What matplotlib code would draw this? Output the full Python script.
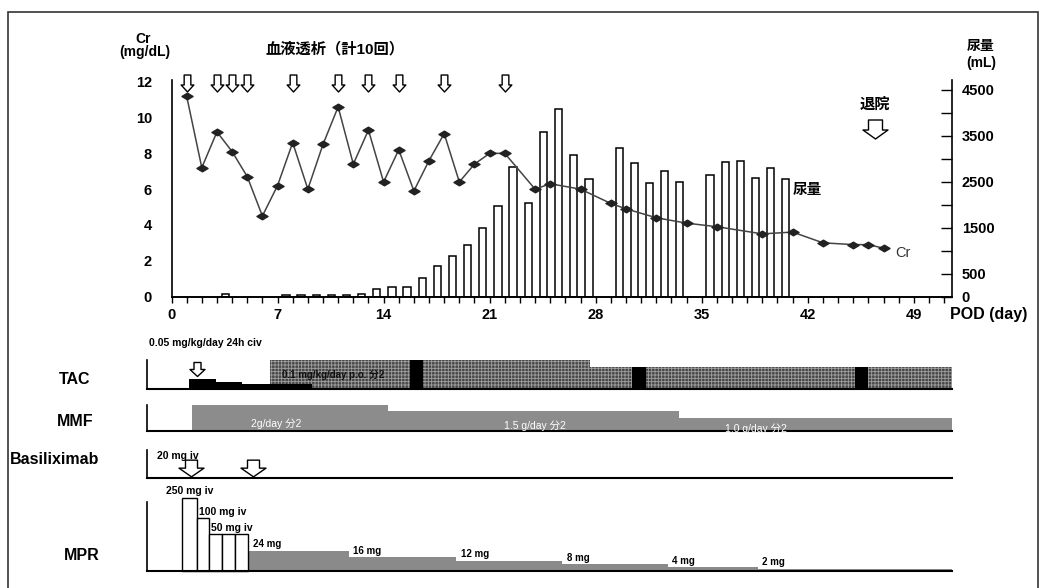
import numpy as np
import matplotlib
matplotlib.use('Agg')
import matplotlib.pyplot as plt
from matplotlib.path import Path

plt.rcParams['font.family'] = ['Liberation Sans', 'Noto Sans CJK JP']
plt.rcParams['font.weight'] = 'bold'
plt.rcParams['hatch.linewidth'] = 0.6

# ---- data ----
# serum creatinine (mg/dL) by POD
cr_day = [1, 2, 3, 4, 5, 6, 7, 8, 9, 10, 11, 12, 13, 14, 15, 16, 17, 18, 19, 20, 21, 22,
          24, 25, 27, 29, 30, 32, 34, 36, 39, 41, 43, 45, 46, 47]
cr_val = [11.2, 7.2, 9.2, 8.1, 6.7, 4.5, 6.2, 8.6, 6.0, 8.5, 10.6, 7.4, 9.3, 6.4, 8.2, 5.9, 7.6, 9.1, 6.4, 7.4, 8.0, 8.0,
          6.0, 6.3, 6.0, 5.2, 4.9, 4.4, 4.1, 3.9, 3.5, 3.6, 3.0, 2.9, 2.9, 2.7]

# urine volume (mL) by POD
urine_day = [4, 8, 9, 10, 11, 12, 13, 14, 15, 16, 17, 18, 19, 20, 21, 22, 23, 24, 25, 26, 27, 28,
             30, 31, 32, 33, 34, 36, 37, 38, 39, 40, 41]
urine_ml = [60, 30, 40, 40, 40, 40, 60, 155, 210, 210, 405, 665, 875, 1125, 1485, 1970, 2830, 2030, 3580, 4080, 3090, 2560,
            3230, 2900, 2480, 2740, 2500, 2640, 2940, 2960, 2590, 2800, 2560]

dialysis_day = [1, 3, 4, 5, 8, 11, 13, 15, 18, 22]
discharge_day = 46.45

# tacrolimus
tac_iv_start = [1.16, 2.94, 4.63]
tac_iv_level = [0.033, 0.025, 0.017]
tac_iv_end = 9.25
tac_po_start = [6.5, 27.6]
tac_po_level = [0.1, 0.075]
tac_black = [(15.75, 16.6), (30.4, 31.3), (45.1, 45.95)]
tac_arrow_day = 1.66

# MMF (g/day)
mmf_start = [1.33, 14.3, 33.5]
mmf_dose = [2.0, 1.5, 1.0]
mmf_text = ['2g/day 分2', '1.5 g/day 分2', '1.0 g/day 分2']
mmf_text_day = [6.94, 24.0, 38.6]

# basiliximab
basi_day = [1.27, 5.35]

# methylprednisolone (mg)
mpr_iv_edges = [0.71, 1.70, 2.5, 3.35, 4.19, 5.07]
mpr_iv_dose = [250, 100, 50, 50, 50]
mpr_po_start = [5.07, 11.7, 18.8, 25.8, 32.75, 38.7]
mpr_po_dose = [24, 16, 12, 8, 4, 2]

end_day = 51.52

# ---- layout helpers (pixel boxes) ----
W, H = 1045, 588


def box(left, top, right, bottom):
    return [left / W, 1 - bottom / H, (right - left) / W, (bottom - top) / H]


def px(x, y):
    return x / W, 1 - y / H


def arrow_marker(body_w, head_w, body_h, head_h):
    top = (body_h + head_h) / 2
    mid = top - body_h
    verts = [(-body_w / 2, top), (body_w / 2, top), (body_w / 2, mid), (head_w / 2, mid),
             (0, -top), (-head_w / 2, mid), (-body_w / 2, mid), (-body_w / 2, top)]
    return Path(verts, closed=True)


diamond = Path([(-1, 0), (0, 0.6), (1, 0), (0, -0.6), (-1, 0)], closed=True)

fig = plt.figure(figsize=(10.45, 5.88), dpi=100)
fig.add_artist(plt.Rectangle((8 / W, -0.1), 1030 / W, 1.1 - 12 / H, transform=fig.transFigure,
                             fill=False, lw=1.2, ec='#333333'))

# ---- top chart ----
ax = fig.add_axes(box(171.5, 80, 952, 296.5))
ax_u = ax.twinx()
ax.set_zorder(ax_u.get_zorder() + 1)
ax.patch.set_visible(False)

ax_u.bar(np.array(urine_day) - 0.45, urine_ml, width=0.48, facecolor='white', edgecolor='black', linewidth=1.1)
ax.plot(cr_day, cr_val, color='#444444', lw=1.1, marker=diamond, ms=8, mfc='#222222', mec='#222222')

ax.set_xlim(0, end_day)
ax.set_ylim(0, 12.1)
ax_u.set_ylim(0, 4717)

for a in (ax, ax_u):
    a.spines['top'].set_visible(False)
    for s in a.spines.values():
        s.set_linewidth(1.2)
ax.spines['right'].set_visible(False)
ax_u.spines['left'].set_visible(False)

ax.set_xticks(range(0, 50, 7))
ax.set_xticks(range(0, 52), minor=True)
ax.tick_params(axis='x', which='both', direction='out', length=4, width=1, labelsize=10.5, pad=4)
ax.set_yticks(range(0, 13, 2))
ax.set_yticks([4, 8, 12], minor=True)
ax.tick_params(axis='y', which='major', length=0, pad=14, labelsize=10.5)
ax.tick_params(axis='y', which='minor', direction='in', length=7, width=1)

u_ticks = np.arange(0, 4501, 500)
u_shown = [0, 500, 1500, 2500, 3500, 4500]
ax_u.set_yticks(u_ticks)
ax_u.set_yticklabels([str(v) if v in u_shown else '' for v in u_ticks])
ax_u.tick_params(axis='y', direction='in', length=8, width=1, pad=7, labelsize=10.5)

# dialysis arrows and discharge arrow
xt = ax.get_xaxis_transform()
ax.plot(dialysis_day, [0.984] * len(dialysis_day), ls='none', transform=xt, clip_on=False,
        marker=arrow_marker(6.7, 12.7, 10, 7), ms=12.2, mfc='white', mec='black', mew=1.0)
ax.plot([discharge_day], [0.774], ls='none', transform=xt, clip_on=False,
        marker=arrow_marker(14, 25, 10, 9), ms=18, mfc='white', mec='black', mew=1.0)
ax.text(discharge_day, 0.884, '退院', transform=xt, ha='center', va='center', fontsize=11)

ax.text(41.0, 5.95, '尿量', ha='left', va='center', fontsize=10.5)
ax.text(47.8, 2.45, 'Cr', ha='left', va='center', fontsize=10.5, fontweight='normal', color='#333333')

fig.text(*px(143, 39), 'Cr', ha='center', va='center', fontsize=10)
fig.text(*px(145, 52), '(mg/dL)', ha='center', va='center', fontsize=10)
fig.text(*px(335, 49), '血液透析（計10回）', ha='center', va='center', fontsize=11)
fig.text(*px(981, 46), '尿量', ha='center', va='center', fontsize=10)
fig.text(*px(981, 63), '(mL)', ha='center', va='center', fontsize=10)
fig.text(*px(950, 314), 'POD (day)', ha='left', va='center', fontsize=11.5)

# ---- lower panels ----
def panel(top, bottom, ylim):
    p = fig.add_axes(box(147, top, 952, bottom))
    p.set_xlim(-1.62, end_day)
    p.set_ylim(*ylim)
    p.set_xticks([])
    p.set_yticks([])
    p.spines['top'].set_visible(False)
    p.spines['right'].set_visible(False)
    p.spines['left'].set_linewidth(1.2)
    p.spines['bottom'].set_linewidth(1.5)
    p.patch.set_visible(False)
    return p


def steps(starts, levels, end):
    return list(starts) + [end], list(levels) + [levels[-1]]


# TAC
ax_tac = panel(360, 389, (0, 0.1))
x, y = steps(tac_po_start, tac_po_level, end_day)
ax_tac.fill_between(x, y, step='post', facecolor='#474747', edgecolor='#a0a0a0', hatch='+++++', linewidth=0)
for s, e in tac_black:
    lvl = tac_po_level[np.searchsorted(tac_po_start, s, side='right') - 1]
    ax_tac.fill_between([s, e], [lvl, lvl], color='black', linewidth=0)
x, y = steps(tac_iv_start, tac_iv_level, tac_iv_end)
ax_tac.fill_between(x, y, step='post', color='black', linewidth=0)
ax_tac.plot([tac_arrow_day], [0.70], ls='none', transform=ax_tac.get_xaxis_transform(), clip_on=False,
            marker=arrow_marker(7, 15, 7, 7), ms=10.8, mfc='white', mec='black', mew=1.0)
ax_tac.text(0.003, 1.58, '0.05 mg/kg/day 24h civ', transform=ax_tac.transAxes, ha='left', va='center', fontsize=7.5)
ax_tac.text(7.26, 0.05, '0.1 mg/kg/day p.o. 分2', ha='left', va='center', fontsize=7, color='#111111')

# MMF
ax_mmf = panel(405, 430.7, (0, 2.0))
x, y = steps(mmf_start, mmf_dose, end_day)
ax_mmf.fill_between(x, y, step='post', color='#8c8c8c', linewidth=0)
for t, d, yy in zip(mmf_text, mmf_text_day, [0.58, 0.37, 0.17]):
    ax_mmf.text(d, yy, t, ha='center', va='center', fontsize=7.5, color='white', fontweight='normal')

# Basiliximab
ax_b = panel(450, 478, (0, 1))
ax_b.plot(basi_day, [0.35] * len(basi_day), ls='none', clip_on=False,
          marker=arrow_marker(12, 25, 8, 8.7), ms=18, mfc='white', mec='black', mew=1.0)
ax_b.text(0.012, 0.79, '20 mg iv', transform=ax_b.transAxes, ha='left', va='center', fontsize=7.5)

# MPR: linear up to 24 mg, compressed above (iv pulses)
def mpr_fwd(d):
    d = np.asarray(d, dtype=float)
    return np.where(d <= 24, d * 0.825, 19.8 + 22.6 * np.log(np.maximum(d, 1e-6) / 24))


def mpr_inv(f):
    f = np.asarray(f, dtype=float)
    return np.where(f <= 19.8, f / 0.825, 24 * np.exp((f - 19.8) / 22.6))


ax_m = panel(502, 570.5, (0, 207))
ax_m.set_yscale('function', functions=(mpr_fwd, mpr_inv))
ax_m.set_ylim(0, 207)
ax_m.set_yticks([])
ax_m.yaxis.set_minor_locator(matplotlib.ticker.NullLocator())
x, y = steps(mpr_po_start, mpr_po_dose, end_day)
ax_m.fill_between(x, y, step='post', color='#8a8a8a', linewidth=0)
ax_m.bar(mpr_iv_edges[:-1], mpr_iv_dose, width=np.diff(mpr_iv_edges), align='edge',
         facecolor='white', edgecolor='black', linewidth=1.0, clip_on=False)
ax_m.annotate('250 mg iv', xy=((mpr_iv_edges[0] + mpr_iv_edges[1]) / 2, mpr_iv_dose[0]), xytext=(0, 1),
              textcoords='offset points', ha='center', va='bottom', fontsize=7.5, annotation_clip=False)
ax_m.annotate('100 mg iv', xy=(mpr_iv_edges[1], mpr_iv_dose[1]), xytext=(1, 1),
              textcoords='offset points', ha='left', va='bottom', fontsize=7.5, annotation_clip=False)
ax_m.annotate('50 mg iv', xy=(mpr_iv_edges[2], mpr_iv_dose[2]), xytext=(1, 1),
              textcoords='offset points', ha='left', va='bottom', fontsize=7.5, annotation_clip=False)
for s, d in zip(mpr_po_start, mpr_po_dose):
    ax_m.annotate(f'{d} mg', xy=(s, d), xytext=(3, 1), textcoords='offset points',
                  ha='left', va='bottom', fontsize=7, annotation_clip=False)

fig.text(*px(75, 379), 'TAC', ha='center', va='center', fontsize=11.5)
fig.text(*px(75, 422), 'MMF', ha='center', va='center', fontsize=11.5)
fig.text(*px(55, 459), 'Basiliximab', ha='center', va='center', fontsize=11.5)
fig.text(*px(82, 555), 'MPR', ha='center', va='center', fontsize=11.5)

fig.savefig('out.png', dpi=100)
